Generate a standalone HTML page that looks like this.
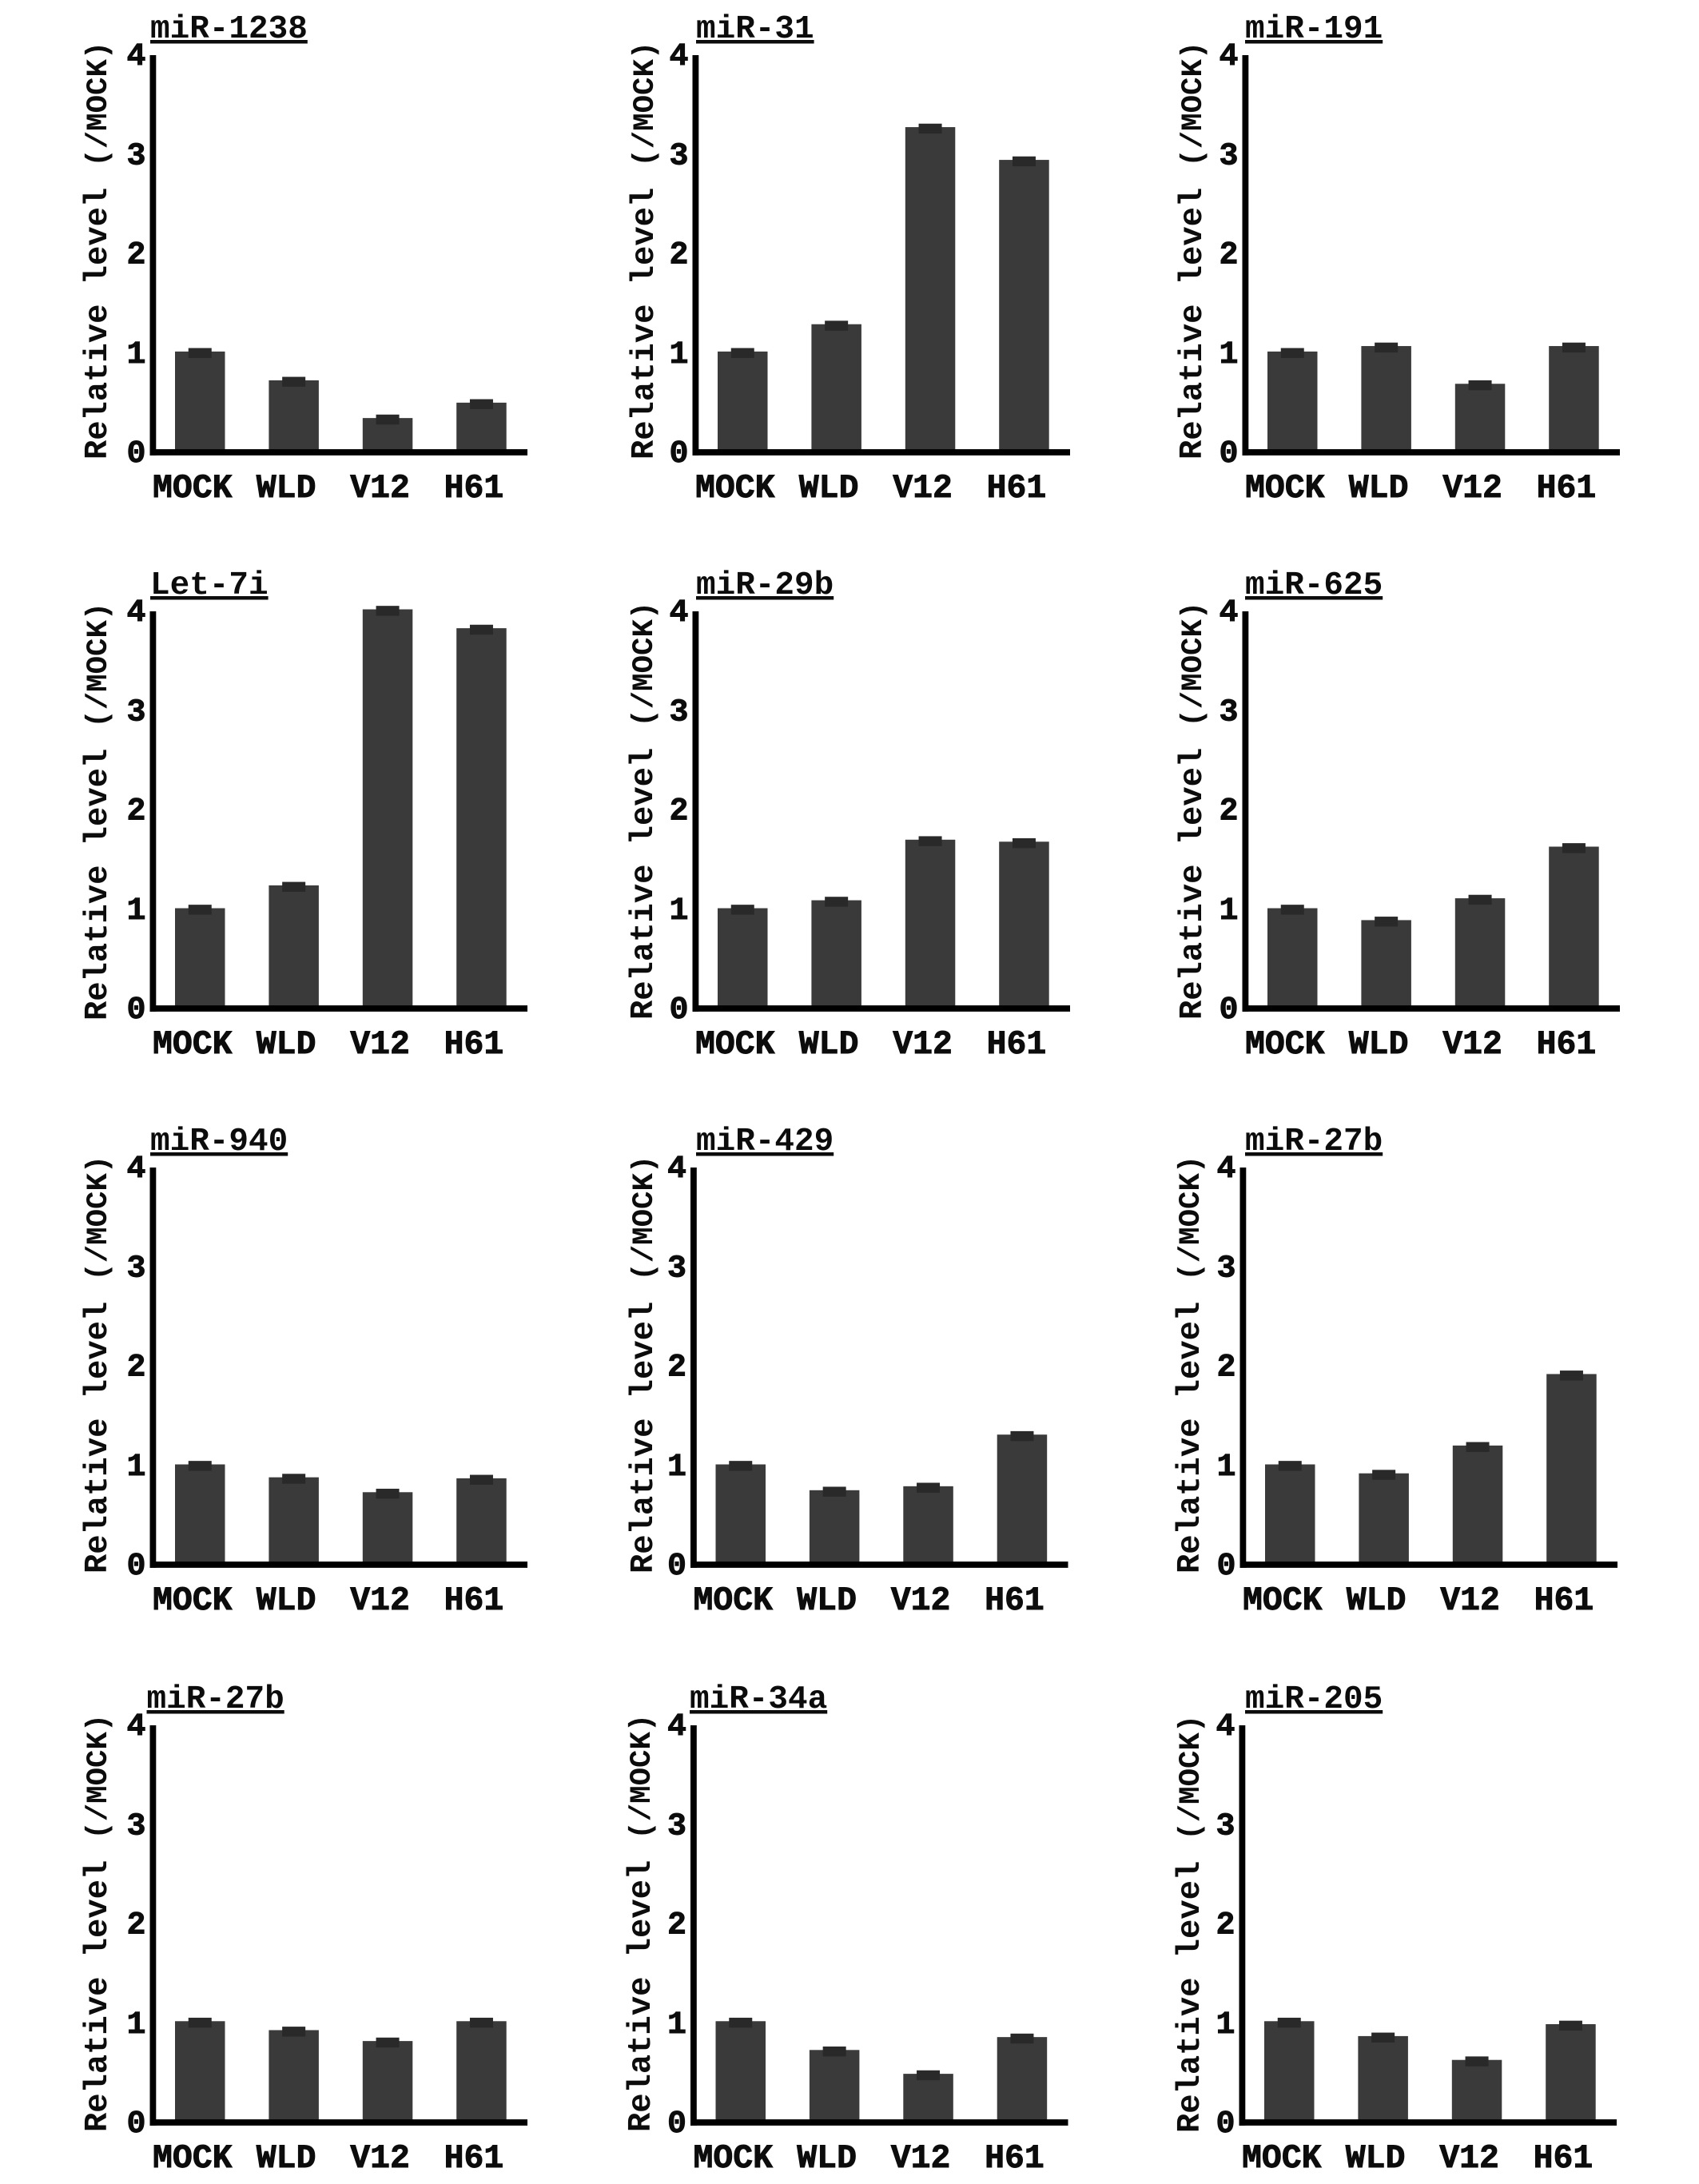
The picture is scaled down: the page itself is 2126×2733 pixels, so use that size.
<!DOCTYPE html>
<html lang="en">
<head>
<meta charset="utf-8">
<title>Relative miRNA levels</title>
<style>
html,body{margin:0;padding:0;background:#fff;}
svg{display:block;}
text{font-family:"Liberation Mono",monospace;font-weight:700;fill:#0c0c0c;}
.heavy{stroke:#0c0c0c;stroke-width:0.9;}
</style>
</head>
<body>
<svg id="figure" xmlns="http://www.w3.org/2000/svg" width="2126" height="2733" viewBox="0 0 2126 2733"></svg>
<script>
// Chart data
const categories = ['MOCK', 'WLD', 'V12', 'H61'];
const yTicks = [0, 1, 2, 3, 4];
const yTitleMain = 'Relative level';
const yTitleUnit = '(/MOCK)';
const errorValue = 0.035;

const miR1238 = [1.015, 0.725, 0.345, 0.50];
const miR31 = [1.015, 1.29, 3.275, 2.945];
const miR191 = [1.015, 1.07, 0.69, 1.07];
const let7i = [1.01, 1.24, 4.02, 3.83];
const miR29b = [1.01, 1.09, 1.70, 1.68];
const miR625 = [1.01, 0.89, 1.11, 1.63];
const miR940 = [1.01, 0.88, 0.73, 0.87];
const miR429 = [1.01, 0.75, 0.79, 1.31];
const miR27bA = [1.01, 0.92, 1.20, 1.92];
const miR27bB = [1.02, 0.93, 0.82, 1.02];
const miR34a = [1.02, 0.73, 0.49, 0.86];
const miR205 = [1.02, 0.87, 0.63, 0.99];

// Panel placement (separate from the values)
const panels = [
  {title:'miR-1238', values:miR1238, axisLeft:187.5,  base:566,  titleX:188,  yTitleX:118,  yTitleStart:575},
  {title:'miR-31',   values:miR31,   axisLeft:866.5,  base:566,  titleX:871,  yTitleX:802,  yTitleStart:575},
  {title:'miR-191',  values:miR191,  axisLeft:1554.5, base:566,  titleX:1558, yTitleX:1488, yTitleStart:575},
  {title:'Let-7i',   values:let7i,   axisLeft:187.5,  base:1262, titleX:188,  yTitleX:118,  yTitleStart:1277},
  {title:'miR-29b',  values:miR29b,  axisLeft:866.5,  base:1262, titleX:871,  yTitleX:801,  yTitleStart:1276},
  {title:'miR-625',  values:miR625,  axisLeft:1554.5, base:1262, titleX:1558, yTitleX:1488, yTitleStart:1276},
  {title:'miR-940',  values:miR940,  axisLeft:187.5,  base:1958, titleX:188,  yTitleX:118,  yTitleStart:1969},
  {title:'miR-429',  values:miR429,  axisLeft:864,    base:1958, titleX:871,  yTitleX:801,  yTitleStart:1969},
  {title:'miR-27b',  values:miR27bA, axisLeft:1551.5, base:1958, titleX:1558, yTitleX:1485, yTitleStart:1969},
  {title:'miR-27b',  values:miR27bB, axisLeft:187.5,  base:2656, titleX:183.5,yTitleX:118,  yTitleStart:2668},
  {title:'miR-34a',  values:miR34a,  axisLeft:864,    base:2656, titleX:863,  yTitleX:798,  yTitleStart:2668},
  {title:'miR-205',  values:miR205,  axisLeft:1550.5, base:2656, titleX:1558, yTitleX:1485, yTitleStart:2669}
];

const NS = 'http://www.w3.org/2000/svg';
const UNIT = 124.25;
const BAR_W = 62.5;
const BAR_STEP = 117.4;
const BAR_OFFSET = 31.5;
const CAP_W = 29;
const AXIS_W = 7.8;
const AXIS_LEN = 472.5;
const figure = document.getElementById('figure');

function make(tag, parent, attrs, text) {
  const el = document.createElementNS(NS, tag);
  for (const k in attrs) el.setAttribute(k, attrs[k]);
  if (text !== undefined) el.textContent = text;
  parent.appendChild(el);
  return el;
}

function drawPanel(p) {
  const yScale = v => p.base - v * UNIT;
  const xScale = i => p.axisLeft + BAR_OFFSET + BAR_W / 2 + i * BAR_STEP;

  const g = make('g', figure, {});
  
  

  const title = make('text', g, {x:p.titleX, y:p.base - 519, 'font-size':41}, p.title);
  
  

  const underline = make('rect', g, {x:p.titleX, y:p.base - 516, width:p.title.length * 24.6, height:4.5, fill:'#0c0c0c'});
  
  

  const yTitle = make('text', g, {
    x:0, y:0,
    transform:'translate(' + (p.yTitleX + 15) + ' ' + p.yTitleStart + ') rotate(-90)'
  });
  
  
  make('tspan', yTitle, {'font-size':40.5}, yTitleMain);
  make('tspan', yTitle, {'font-size':37.4, dx:26}, yTitleUnit);

  yTicks.forEach(t => {
    const tick = make('text', g, {x:p.axisLeft - 5, y:yScale(t) + 12, 'font-size':40, 'text-anchor':'end', class:'heavy'}, String(t));
    
    
  });

  p.values.forEach((v, i) => {
    const top = yScale(v);
    const bar = make('rect', g, {
      x:xScale(i) - BAR_W / 2, y:top, width:BAR_W, height:p.base - top, fill:'#3a3a3a'
    });
    
    

    const capTop = yScale(v + errorValue);
    const capBottom = yScale(v - errorValue * 1.85);
    const cap = make('rect', g, {
      x:xScale(i) - CAP_W / 2, y:capTop, width:CAP_W, height:capBottom - capTop, fill:'#292929'
    });
    
    

    const label = make('text', g, {x:xScale(i) - 9.5, y:p.base + 56, 'font-size':41.5, 'text-anchor':'middle', class:'heavy'}, categories[i]);
    
    
  });

  const yAxis = make('rect', g, {x:p.axisLeft, y:yScale(4), width:AXIS_W, height:4 * UNIT + AXIS_W / 2, fill:'#000'});
  
  

  const xAxis = make('rect', g, {x:p.axisLeft, y:p.base - AXIS_W / 2, width:AXIS_LEN, height:AXIS_W, fill:'#000'});
  
  
}

panels.forEach(drawPanel);
</script>
</body>
</html>
